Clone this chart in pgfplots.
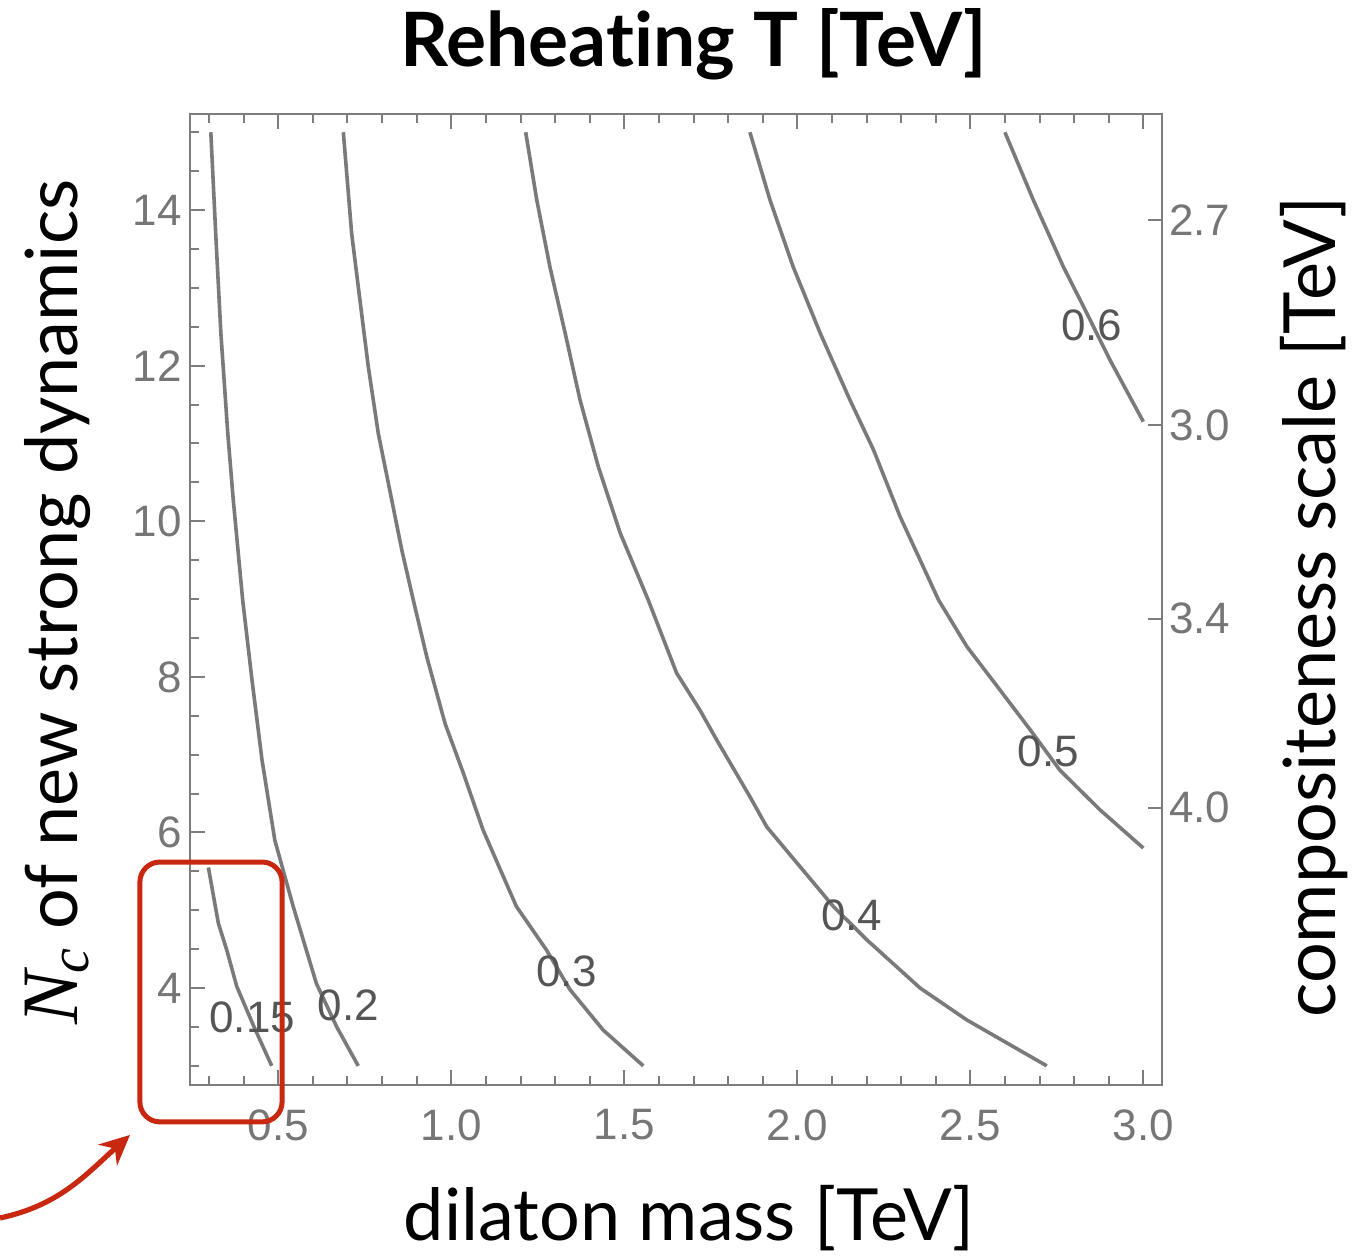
\documentclass[border=0pt]{standalone}
\usepackage{pgfplots}
\pgfplotsset{compat=1.18}
\usepackage{fontspec}
\setmainfont{Lato}[Ligatures={NoCommon}]
\newfontfamily\tickfont{Liberation Sans}
\newfontfamily\lserif{Liberation Serif}
\usetikzlibrary{arrows.meta}
\definecolor{axgray}{RGB}{125,125,125}
\definecolor{tickgray}{RGB}{118,118,118}
\definecolor{curvegray}{RGB}{122,122,122}
\definecolor{labgray}{RGB}{85,85,85}
\definecolor{hlred}{RGB}{200,40,15}
\begin{document}
\begin{tikzpicture}
\begin{axis}[
  x=173pt, y=38.9pt,
  xmin=0.246, xmax=3.054, ymin=2.76, ymax=15.24,
  clip=false,
  axis line style={axgray, line width=1pt},
  tick style={axgray, line width=1pt},
  tick align=inside,
  major tick length=7.5pt, minor tick length=4.5pt,
  xtick={0.5,1,1.5,2,2.5,3}, xticklabels={0.5,1.0,1.5,2.0,2.5,3.0},
  minor xtick={0.3,0.4,0.6,0.7,0.8,0.9,1.1,1.2,1.3,1.4,1.6,1.7,1.8,1.9,2.1,2.2,2.3,2.4,2.6,2.7,2.8,2.9},
  ytick={4,6,8,10,12,14}, yticklabels={4,6,8,10,12,14},
  minor ytick={3,3.5,4.5,5,5.5,6.5,7,7.5,8.5,9,9.5,10.5,11,11.5,12.5,13,13.5,14.5,15},
  ytick pos=left,
  xticklabel style={font=\tickfont\fontsize{22}{24}\selectfont, text=tickgray, yshift=-9pt},
  yticklabel style={font=\tickfont\fontsize{22}{24}\selectfont, text=tickgray, xshift=-0.7pt},
]
% contour T = 0.15 TeV
\addplot[curvegray, line width=1.8pt] coordinates {
 (0.298,5.55) (0.312,5.20) (0.327,4.83) (0.351,4.49) (0.380,4.02) (0.430,3.50) (0.481,3.00)};
% contour T = 0.2 TeV
\addplot[curvegray, line width=1.8pt] coordinates {
 (0.305,15.0) (0.319,13.71) (0.334,12.42) (0.354,11.13) (0.370,10.27) (0.397,8.99)
 (0.424,7.96) (0.453,6.93) (0.490,5.90) (0.543,5.05) (0.610,4.06) (0.669,3.50) (0.731,3.00)};
% contour T = 0.3 TeV
\addplot[curvegray, line width=1.8pt] coordinates {
 (0.688,15.0) (0.712,13.70) (0.736,12.84) (0.760,11.99) (0.789,11.13) (0.828,10.27)
 (0.857,9.63) (0.890,8.99) (0.929,8.26) (0.982,7.40) (1.035,6.76) (1.092,6.03)
 (1.188,5.05) (1.275,4.49) (1.343,3.98) (1.439,3.46) (1.555,3.00)};
% contour T = 0.4 TeV
\addplot[curvegray, line width=1.8pt] coordinates {
 (1.215,15.0) (1.247,14.13) (1.285,13.27) (1.329,12.42) (1.372,11.56) (1.425,10.70)
 (1.488,9.85) (1.569,8.99) (1.651,8.05) (1.719,7.57) (1.767,7.19) (1.863,6.46)
 (1.912,6.07) (2.008,5.56) (2.104,5.05) (2.201,4.62) (2.355,4.00) (2.490,3.59) (2.721,3.00)};
% contour T = 0.5 TeV
\addplot[curvegray, line width=1.8pt] coordinates {
 (1.863,15.0) (1.921,14.13) (1.988,13.27) (2.066,12.42) (2.152,11.56) (2.220,10.92)
 (2.297,10.06) (2.408,8.99) (2.490,8.39) (2.586,7.83) (2.673,7.32) (2.759,6.80)
 (2.875,6.29) (3.000,5.80)};
% contour T = 0.6 TeV
\addplot[curvegray, line width=1.8pt] coordinates {
 (2.600,15.0) (2.682,14.13) (2.769,13.27) (2.827,12.76) (2.904,12.07) (3.000,11.28)};
% contour labels
\begin{scope}[every node/.style={font=\tickfont\fontsize{22}{24}\selectfont, text=labgray}]
\node at (axis cs:2.851,12.52) {0.6};
\node at (axis cs:2.725,7.04) {0.5};
\node at (axis cs:2.157,4.94) {0.4};
\node at (axis cs:1.334,4.21) {0.3};
\node at (axis cs:0.702,3.78) {0.2};
\node at (axis cs:0.425,3.63) {0.15};
\end{scope}
% titles and labels
\node[font=\fontsize{37.5}{40}\selectfont\bfseries, anchor=base] at (axis cs:1.700,15.839) {Reheating T [TeV]};
\node[font=\fontsize{36}{40}\selectfont, anchor=base] at (axis cs:1.687,0.762) {dilaton mass [TeV]};
\node[font=\fontsize{36}{40}\selectfont, anchor=base, rotate=90] at (axis cs:-0.079,8.963) {{\lserif\itshape\fontsize{40}{44}\selectfont N\kern-1pt\raisebox{-0.3ex}{\fontsize{28}{30}\selectfont c}} of new strong dynamics};
\node[font=\fontsize{36}{40}\selectfont, anchor=base, rotate=90] at (axis cs:3.554,8.892) {compositeness scale [TeV]};
% highlight box and arrow
\draw[hlred, line width=2.5pt, rounded corners=10pt] (axis cs:0.100,2.28) rectangle (axis cs:0.511,5.62);
\draw[hlred, line width=2.6pt, -{Stealth[length=15pt,width=14pt]}] (axis cs:-0.3043,1.045) to[out=12,in=222] (axis cs:0.0714,2.112);
\coordinate (bbsw) at (axis cs:-0.3043,0.531);
\coordinate (bbne) at (axis cs:3.6176,16.70);
\end{axis}
\begin{axis}[
  x=173pt, y=38.9pt,
  xmin=0.246, xmax=3.054, ymin=2.76, ymax=15.24,
  axis line style={draw=none},
  xtick=\empty,
  tick style={axgray, line width=1pt},
  tick align=inside,
  major tick length=7pt,
  ytick pos=right, yticklabel pos=right,
  ytick={6.319,8.746,11.234,13.869}, yticklabels={4.0,3.4,3.0,2.7},
  minor ytick={},
  yticklabel style={font=\tickfont\fontsize{22}{24}\selectfont, text=tickgray, xshift=0pt},
]
\addplot[draw=none] coordinates {(1,5)};
\end{axis}
\pgfresetboundingbox
\useasboundingbox (bbsw) rectangle (bbne);
\end{tikzpicture}
\end{document}
